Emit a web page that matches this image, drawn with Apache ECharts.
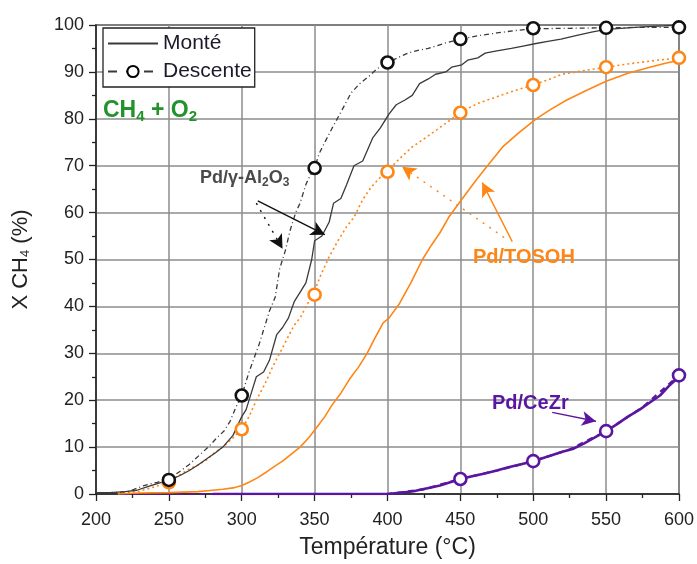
<!DOCTYPE html>
<html><head><meta charset="utf-8">
<script src="https://cdn.jsdelivr.net/npm/echarts@6/dist/echarts.min.js"></script>
<style>html,body{margin:0;padding:0;background:#fff}#c{width:697px;height:564px}</style>
</head><body><div id="c"></div>
<script>
// ---------- data ----------
var xTicks = [200, 250, 300, 350, 400, 450, 500, 550, 600];
var yTicks = [0, 10, 20, 30, 40, 50, 60, 70, 80, 90, 100];

// Pd/γ-Al2O3 — Monté (solid)
var alMonteT = [200,210,220,228,235,242,251,258,264,270,276,282,287,294,300,303,307,310,315,319,324,328,332,336,340,344,348,350,355,360,363,368,372,377,383,390,395,401,406,412,417,422,428,433,440,444,451,455,462,467,475,485,493,501,510,519,530,540,549,560,575,590,600];
var alMonteY = [0.3,0.3,0.5,0.8,1.5,2.2,3,4,5,6.2,7.5,8.8,10,12.5,16.5,18,22,25,26,28.5,34,35.5,37.5,41,43,45,50,54,55,58,62,63,66,70,71,76,78,81,83,84,85,87.5,88.5,89.5,90,91,91.5,92.5,93,94,94.5,95,95.5,96,96.5,97,97.8,98.5,99,99.3,99.6,99.8,100];
// Pd/γ-Al2O3 — Descente (dash-dot)
var alDescT = [200,210,222,232,242,250,257,264,271,277,283,288,292,296,300,305,312,319,323,326,330,333,337,340,344,347,350,353,357,362,369,375,381,387,393,400,407,414,421,428,440,450,462,475,487,500,525,550,575,600];
var alDescY = [0.3,0.3,0.5,1.7,2.5,3.2,4.7,6.3,8.3,10,12,13.5,15.5,18.5,21,26,32,39,42,48,52,56,60,62,66,68,69.5,72.5,75,78,82,85.5,87.5,89,90.7,92,93,94,94.6,95,96.2,97,97.7,98.3,98.8,99.2,99.3,99.4,99.5,99.5];
var alDescMarkT = [250,300,350,400,450,500,550,600];
var alDescMarkY = [3,21,69.5,92,97,99.3,99.4,99.5];

// Pd/TOSOH — Monté (solid)
var toMonteT = [215,230,250,270,280,287,294,300,305,311,317,323,328,334,340,346,351,357,362,368,374,380,386,391,397,401,408,416,424,430,436,442,449,455,461,470,479,490,502,512,523,536,550,565,580,590,600];
var toMonteY = [0,0.2,0.3,0.5,0.8,1,1.3,1.8,2.5,3.5,4.7,6,7,8.5,10,12,14,16.5,19,21.5,24.5,27,30,33,36.5,37.5,40.5,45,50,53,55.7,59,62,64.5,67,70.5,74,77,80,82,84,86,88,89.7,91,91.8,92.5];
// Pd/TOSOH — Descente (dotted)
var toDescT = [215,230,242,249,257,264,270,276,282,287,294,300,305,310,316,321,326,331,336,340,345,349,354,360,366,372,377,383,389,395,400,405,410,417,424,434,442,450,457,463,475,487,500,510,520,535,550,565,580,600];
var toDescY = [0,0.6,1.7,2.5,4,5.3,6.2,7.3,9,10,12,13.8,16.5,20,23.5,27,30,33,36,37.5,40.5,42.5,46.5,50.6,54,57,59,62.8,65.5,67.5,68.7,70.5,72,74,75.5,77.7,79.5,81.3,82.5,83.4,84.7,86,87.2,88.3,89.5,90.3,91,91.7,92.3,93];
var toDescMarkT = [250,300,350,400,450,500,550,600];
var toDescMarkY = [2.5,13.8,42.5,68.7,81.3,87.2,91,93];

// Pd/CeZr — Monté (solid)
var ceMonteT = [280,300,350,400,410,418,424,430,436,443,450,458,466,475,483,491,500,510,520,527,535,542,550,557,565,573,580,587,593,600];
var ceMonteY = [0,0,0,0,0.3,0.6,1,1.4,1.8,2.5,3.2,3.8,4.3,5,5.7,6.3,7,8,9,9.6,10.8,12,13.4,14.8,16.5,18,19.5,21,23,25];
// Pd/CeZr — Descente (dashed)
var ceDescT = [218,300,400,425,450,475,500,525,550,575,600];
var ceDescY = [0,0,0,1,3.2,5,7,9.5,13.4,18.5,25.3];
var ceDescMarkT = [450,500,550,600];
var ceDescMarkY = [3.2,7,13.4,25.3];

// annotation arrows (data coordinates: [fromT, fromY, toT, toY])
var arrowAlSolid = [311, 62.5, 357, 55.3];
var arrowAlDot = [310, 62, 328, 52.3];
var arrowToSolid = [485.6, 53.8, 465, 66.4];
var arrowToDot = [480, 54.7, 410, 69.8];
var arrowCe = [513, 17.4, 543, 15.5];

// ---------- styles ----------
var GRAY = '#3a3a3a', ORANGE = '#ff8514', PURPLE = '#5a16a0', GREEN = '#22922a';
var FONT = '"Liberation Sans", Arial, sans-serif';

function zip(a, b) { return a.map(function (v, i) { return [v, b[i]]; }); }
function arrow(c, color, type) {
  return {
    silent: true, symbol: ['none', 'arrow'], symbolSize: [11, 14],
    label: { show: false }, emphasis: { disabled: true },
    lineStyle: { color: color, type: type, width: 1.4 },
    data: [[{ coord: [c[0], c[1]] }, { coord: [c[2], c[3]] }]]
  };
}
function lineSeries(name, data, color, width, type, mark) {
  var s = {
    name: name, type: 'line', data: data, symbol: 'none', smooth: false,
    lineStyle: { color: color, width: width, type: type }, z: 3, silent: true
  };
  if (mark) s.markLine = mark;
  return s;
}
function circles(name, data, color) {
  return {
    name: name, type: 'scatter', data: data, symbol: 'circle', symbolSize: 12,
    itemStyle: { color: '#fff', borderColor: color, borderWidth: 2.6, opacity: 1 }, z: 5, silent: true
  };
}

var chart = echarts.init(document.getElementById('c'), null, { renderer: 'canvas' });
var option = {
  animation: false,
  backgroundColor: '#fff',
  grid: { left: 96, right: 16, top: 25, bottom: 69, show: true, borderColor: '#222', borderWidth: 1.3, backgroundColor: 'transparent' },
  legend: {
    data: ['Monté', 'Descente'],
    orient: 'vertical', left: 103, top: 28,
    itemWidth: 50, itemHeight: 14, itemGap: 7, padding: [5, 3, 5, 4],
    backgroundColor: '#fff', borderColor: '#222', borderWidth: 1.3,
    textStyle: { fontSize: 21, color: '#1a1a2a', fontFamily: FONT }, selectedMode: false
  },
  xAxis: {
    type: 'value', min: xTicks[0], max: xTicks[xTicks.length - 1], interval: 50,
    name: 'Température (°C)', nameLocation: 'middle', nameGap: 42,
    nameTextStyle: { fontSize: 23, color: '#222', fontFamily: FONT },
    axisLine: { lineStyle: { color: '#222', width: 1.5 } },
    axisTick: { show: true, length: 7, lineStyle: { color: '#222', width: 1.3 } },
    minorTick: { show: true, splitNumber: 2, length: 4, lineStyle: { color: '#222', width: 1.3 } },
    axisLabel: { fontSize: 18, color: '#222', margin: 17, fontFamily: FONT },
    splitLine: { show: true, lineStyle: { color: '#8c8c8c', width: 1.5 } }
  },
  yAxis: {
    type: 'value', min: yTicks[0], max: yTicks[yTicks.length - 1], interval: 10,
    name: '{a|X CH}{s|4}{a| (%)}', nameLocation: 'middle', nameGap: 64, nameRotate: 90,
    nameTextStyle: { fontFamily: FONT, rich: {
      a: { fontSize: 22, color: '#222', fontFamily: FONT },
      s: { fontSize: 13, color: '#222', fontFamily: FONT, padding: [10, 0, 0, 0] } } },
    axisLine: { show: true, lineStyle: { color: '#222', width: 1.5 } },
    axisTick: { show: true, length: 7, lineStyle: { color: '#222', width: 1.3 } },
    minorTick: { show: true, splitNumber: 2, length: 4, lineStyle: { color: '#222', width: 1.3 } },
    axisLabel: { fontSize: 18, color: '#222', margin: 12, fontFamily: FONT },
    splitLine: { show: true, lineStyle: { color: '#8c8c8c', width: 1.5 } }
  },
  series: [
    // legend dummies
    { name: 'Monté', type: 'line', data: [], symbol: 'none',
      itemStyle: { color: 'rgba(255,255,255,0)', borderColor: 'rgba(255,255,255,0)', borderWidth: 0 },
      lineStyle: { color: GRAY, width: 1.3 } },
    { name: 'Descente', type: 'line', data: [], symbol: 'circle', symbolSize: 9,
      itemStyle: { color: '#fff', borderColor: '#000', borderWidth: 2.6 },
      lineStyle: { color: GRAY, width: 1.3, type: [9, 9] } },
    // CeZr
    lineSeries('CeZr D', zip(ceDescT, ceDescY), PURPLE, 2.2, [6, 5]),
    lineSeries('CeZr M', zip(ceMonteT, ceMonteY), PURPLE, 2.6, 'solid', arrow(arrowCe, PURPLE, 'solid')),
    // TOSOH
    lineSeries('TOSOH M', zip(toMonteT, toMonteY), ORANGE, 1.6, 'solid', arrow(arrowToSolid, ORANGE, 'solid')),
    lineSeries('TOSOH D', zip(toDescT, toDescY), ORANGE, 1.6, [2, 3], arrow(arrowToDot, ORANGE, [2, 6])),
    // Al2O3
    lineSeries('Al M', zip(alMonteT, alMonteY), GRAY, 1.3, 'solid', arrow(arrowAlSolid, '#111', 'solid')),
    lineSeries('Al D', zip(alDescT, alDescY), GRAY, 1.3, [5, 3, 1, 3], arrow(arrowAlDot, '#111', [2, 6])),
    circles('CeZr Dc', zip(ceDescMarkT, ceDescMarkY), PURPLE),
    circles('TOSOH Dc', zip(toDescMarkT, toDescMarkY), ORANGE),
    circles('Al Dc', zip(alDescMarkT, alDescMarkY), '#111')
  ],
  graphic: [
    { type: 'text', left: 103, top: 99, z: 10, style: {
        text: '{a|CH}{s|4}{a| + O}{s|2}',
        rich: { a: { fontSize: 23, fontWeight: 'bold', fill: GREEN, fontFamily: FONT },
                s: { fontSize: 15, fontWeight: 'bold', fill: GREEN, fontFamily: FONT, padding: [12, 0, 0, 0] } } } },
    { type: 'text', left: 200, top: 169, z: 10, style: {
        text: '{a|Pd/γ-Al}{s|2}{a|O}{s|3}',
        rich: { a: { fontSize: 18, fontWeight: 'bold', fill: '#4a4a4a', fontFamily: FONT },
                s: { fontSize: 12, fontWeight: 'bold', fill: '#4a4a4a', fontFamily: FONT, padding: [10, 0, 0, 0] } } } },
    { type: 'text', left: 473, top: 247, z: 10, style: {
        text: 'Pd/TOSOH', fill: ORANGE, font: 'bold 20px ' + FONT } },
    { type: 'text', left: 492, top: 393, z: 10, style: {
        text: 'Pd/CeZr', fill: PURPLE, font: 'bold 20px ' + FONT } }
  ]
};
chart.setOption(option);
</script>
</body></html>
